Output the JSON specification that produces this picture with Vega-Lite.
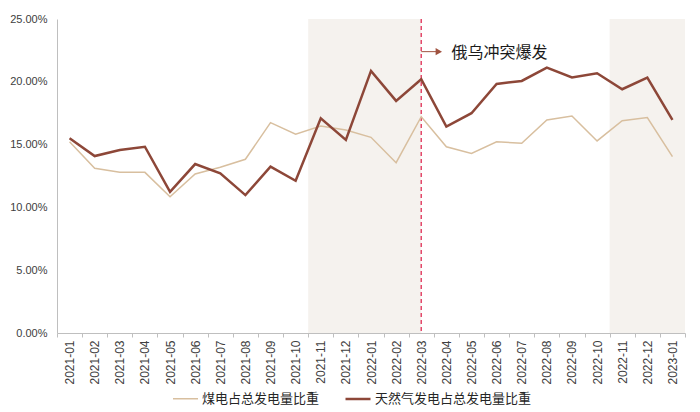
{
  "$schema": "https://vega.github.io/schema/vega-lite/v6.json",
  "width": 628,
  "height": 314,
  "autosize": {"type": "none"},
  "padding": {"left": 57, "top": 19, "right": 15, "bottom": 79},
  "background": "white",
  "config": {
    "view": {"stroke": null},
    "font": "Liberation Sans",
    "axis": {"labelFont": "Liberation Sans", "labelColor": "#404040", "labelFontSize": 11}
  },
  "datasets": {
    "series": [
      {"month": "2021-01", "series": "煤电占总发电量比重", "value": 0.1523},
      {"month": "2021-02", "series": "煤电占总发电量比重", "value": 0.1311},
      {"month": "2021-03", "series": "煤电占总发电量比重", "value": 0.1279},
      {"month": "2021-04", "series": "煤电占总发电量比重", "value": 0.1279},
      {"month": "2021-05", "series": "煤电占总发电量比重", "value": 0.1085},
      {"month": "2021-06", "series": "煤电占总发电量比重", "value": 0.1266},
      {"month": "2021-07", "series": "煤电占总发电量比重", "value": 0.1320},
      {"month": "2021-08", "series": "煤电占总发电量比重", "value": 0.1383},
      {"month": "2021-09", "series": "煤电占总发电量比重", "value": 0.1675},
      {"month": "2021-10", "series": "煤电占总发电量比重", "value": 0.1582},
      {"month": "2021-11", "series": "煤电占总发电量比重", "value": 0.1648},
      {"month": "2021-12", "series": "煤电占总发电量比重", "value": 0.1616},
      {"month": "2022-01", "series": "煤电占总发电量比重", "value": 0.1558},
      {"month": "2022-02", "series": "煤电占总发电量比重", "value": 0.1356},
      {"month": "2022-03", "series": "煤电占总发电量比重", "value": 0.1722},
      {"month": "2022-04", "series": "煤电占总发电量比重", "value": 0.1483},
      {"month": "2022-05", "series": "煤电占总发电量比重", "value": 0.1430},
      {"month": "2022-06", "series": "煤电占总发电量比重", "value": 0.1523},
      {"month": "2022-07", "series": "煤电占总发电量比重", "value": 0.1510},
      {"month": "2022-08", "series": "煤电占总发电量比重", "value": 0.1696},
      {"month": "2022-09", "series": "煤电占总发电量比重", "value": 0.1728},
      {"month": "2022-10", "series": "煤电占总发电量比重", "value": 0.1529},
      {"month": "2022-11", "series": "煤电占总发电量比重", "value": 0.1690},
      {"month": "2022-12", "series": "煤电占总发电量比重", "value": 0.1715},
      {"month": "2023-01", "series": "煤电占总发电量比重", "value": 0.1404},
      {"month": "2021-01", "series": "天然气发电占总发电量比重", "value": 0.1550},
      {"month": "2021-02", "series": "天然气发电占总发电量比重", "value": 0.1409},
      {"month": "2021-03", "series": "天然气发电占总发电量比重", "value": 0.1457},
      {"month": "2021-04", "series": "天然气发电占总发电量比重", "value": 0.1483},
      {"month": "2021-05", "series": "天然气发电占总发电量比重", "value": 0.1124},
      {"month": "2021-06", "series": "天然气发电占总发电量比重", "value": 0.1345},
      {"month": "2021-07", "series": "天然气发电占总发电量比重", "value": 0.1271},
      {"month": "2021-08", "series": "天然气发电占总发电量比重", "value": 0.1098},
      {"month": "2021-09", "series": "天然气发电占总发电量比重", "value": 0.1324},
      {"month": "2021-10", "series": "天然气发电占总发电量比重", "value": 0.1212},
      {"month": "2021-11", "series": "天然气发电占总发电量比重", "value": 0.1710},
      {"month": "2021-12", "series": "天然气发电占总发电量比重", "value": 0.1537},
      {"month": "2022-01", "series": "天然气发电占总发电量比重", "value": 0.2087},
      {"month": "2022-02", "series": "天然气发电占总发电量比重", "value": 0.1848},
      {"month": "2022-03", "series": "天然气发电占总发电量比重", "value": 0.2020},
      {"month": "2022-04", "series": "天然气发电占总发电量比重", "value": 0.1643},
      {"month": "2022-05", "series": "天然气发电占总发电量比重", "value": 0.1750},
      {"month": "2022-06", "series": "天然气发电占总发电量比重", "value": 0.1983},
      {"month": "2022-07", "series": "天然气发电占总发电量比重", "value": 0.2007},
      {"month": "2022-08", "series": "天然气发电占总发电量比重", "value": 0.2113},
      {"month": "2022-09", "series": "天然气发电占总发电量比重", "value": 0.2034},
      {"month": "2022-10", "series": "天然气发电占总发电量比重", "value": 0.2068},
      {"month": "2022-11", "series": "天然气发电占总发电量比重", "value": 0.1941},
      {"month": "2022-12", "series": "天然气发电占总发电量比重", "value": 0.2034},
      {"month": "2023-01", "series": "天然气发电占总发电量比重", "value": 0.1696}
    ]
  },
  "layer": [
    {
      "data": {"values": [{"start": "2021-11", "end": "2022-03"}]},
      "mark": {"type": "rect", "color": "#f5f2ee"},
      "encoding": {
        "x": {"field": "start", "type": "ordinal", "bandPosition": 0, "title": null,
              "scale": {"type": "band", "paddingInner": 0, "paddingOuter": 0,
                        "domain": ["2021-01","2021-02","2021-03","2021-04","2021-05","2021-06","2021-07","2021-08","2021-09","2021-10","2021-11","2021-12","2022-01","2022-02","2022-03","2022-04","2022-05","2022-06","2022-07","2022-08","2022-09","2022-10","2022-11","2022-12","2023-01"]}},
        "x2": {"field": "end", "bandPosition": 0.5}
      }
    },
    {
      "data": {"values": [{"start": "2022-11", "end": "2023-01"}]},
      "mark": {"type": "rect", "color": "#f5f2ee"},
      "encoding": {
        "x": {"field": "start", "type": "ordinal", "bandPosition": 0, "title": null},
        "x2": {"field": "end", "bandPosition": 1}
      }
    },
    {
      "data": {"values": [{"month": "2022-03"}]},
      "mark": {"type": "rule", "color": "#e3486a", "strokeWidth": 1.5, "strokeDash": [4, 3]},
      "encoding": {
        "x": {"field": "month", "type": "ordinal", "title": null}
      }
    },
    {
      "data": {"name": "series"},
      "mark": {"type": "line"},
      "encoding": {
        "x": {"field": "month", "type": "ordinal", "title": null,
              "axis": {"labelAngle": -90, "labelFontSize": 12, "tickBand": "extent", "domainColor": "#bfbfbf", "tickColor": "#bfbfbf", "tickSize": 4, "labelPadding": 3}},
        "y": {"field": "value", "type": "quantitative", "title": null,
              "scale": {"domain": [0, 0.25], "nice": false},
              "axis": {"format": ".2%", "values": [0, 0.05, 0.1, 0.15, 0.2, 0.25], "grid": false, "ticks": false, "domainColor": "#bfbfbf", "labelPadding": 10}},
        "color": {"field": "series", "type": "nominal", "title": null,
                  "scale": {"domain": ["煤电占总发电量比重", "天然气发电占总发电量比重"], "range": ["#d8bf9f", "#8d4738"]},
                  "legend": {"orient": "none", "legendX": 115, "legendY": 366, "direction": "horizontal",
                             "symbolType": "stroke", "symbolSize": 625, "symbolStrokeWidth": 2.2,
                             "labelFont": "Noto Sans CJK SC", "labelFontSize": 13, "labelColor": "#262626",
                             "columnPadding": 20, "labelOffset": 3}},
        "strokeWidth": {"field": "series", "type": "nominal",
                        "scale": {"domain": ["煤电占总发电量比重", "天然气发电占总发电量比重"], "range": [1.5, 2.5]},
                        "legend": null}
      }
    },
    {
      "data": {"values": [{"m1": "2022-03", "m2": "2022-04", "y": 0.224}]},
      "mark": {"type": "rule", "color": "#a0523f", "strokeWidth": 1},
      "encoding": {
        "x": {"field": "m1", "type": "ordinal", "bandPosition": 0.5, "title": null},
        "x2": {"field": "m2", "bandPosition": 0.15},
        "y": {"field": "y", "type": "quantitative"}
      }
    },
    {
      "data": {"values": [{"m2": "2022-04", "y": 0.224}]},
      "mark": {"type": "point", "shape": "triangle-right", "filled": true, "color": "#a0523f", "size": 55, "opacity": 1},
      "encoding": {
        "x": {"field": "m2", "type": "ordinal", "bandPosition": 0.2, "title": null},
        "y": {"field": "y", "type": "quantitative"}
      }
    },
    {
      "data": {"values": [{"m2": "2022-04", "y": 0.224, "label": "俄乌冲突爆发"}]},
      "mark": {"type": "text", "align": "left", "baseline": "middle", "font": "Noto Sans CJK SC", "fontSize": 16, "color": "#1a1a1a", "dy": 1},
      "encoding": {
        "x": {"field": "m2", "type": "ordinal", "bandPosition": 0.7, "title": null},
        "y": {"field": "y", "type": "quantitative"},
        "text": {"field": "label"}
      }
    }
  ]
}
